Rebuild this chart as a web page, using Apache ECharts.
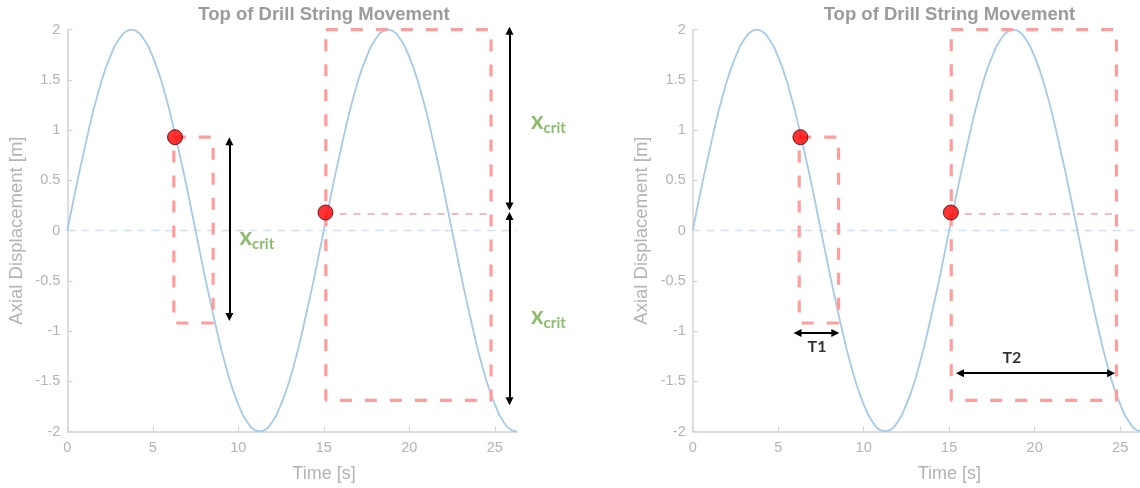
<!DOCTYPE html>
<html>
<head>
<meta charset="utf-8">
<script src="https://cdn.jsdelivr.net/npm/echarts@6/dist/echarts.min.js"></script>
<style>
  html, body { margin: 0; padding: 0; background: #ffffff; }
  #chart { width: 1140px; height: 488px; }
</style>
</head>
<body>
<div id="chart"></div>
<script>
// Top-of-string axial displacement, sampled every 0.25 s
const timeS = [
  0, 0.25, 0.5, 0.75, 1, 1.25, 1.5, 1.75, 2, 2.25, 2.5, 2.75, 3, 3.25, 3.5, 3.75,
  4, 4.25, 4.5, 4.75, 5, 5.25, 5.5, 5.75, 6, 6.25, 6.5, 6.75, 7, 7.25, 7.5,
  7.75, 8, 8.25, 8.5, 8.75, 9, 9.25, 9.5, 9.75, 10, 10.25, 10.5, 10.75, 11, 11.25,
  11.5, 11.75, 12, 12.25, 12.5, 12.75, 13, 13.25, 13.5, 13.75, 14, 14.25, 14.5, 14.75, 15,
  15.25, 15.5, 15.75, 16, 16.25, 16.5, 16.75, 17, 17.25, 17.5, 17.75, 18, 18.25, 18.5, 18.75,
  19, 19.25, 19.5, 19.75, 20, 20.25, 20.5, 20.75, 21, 21.25, 21.5, 21.75, 22, 22.25, 22.5,
  22.75, 23, 23.25, 23.5, 23.75, 24, 24.25, 24.5, 24.75, 25, 25.25, 25.5, 25.75, 26, 26.25
];
const displacementM = [
  0, 0.21, 0.42, 0.62, 0.81, 1.00, 1.18, 1.34, 1.49, 1.62, 1.73, 1.83, 1.90, 1.96, 1.99, 2.00,
  1.99, 1.96, 1.90, 1.83, 1.73, 1.62, 1.49, 1.34, 1.18, 1.00, 0.81, 0.62, 0.42, 0.21, 0,
  -0.21, -0.42, -0.62, -0.81, -1.00, -1.18, -1.34, -1.49, -1.62, -1.73, -1.83, -1.90, -1.96, -1.99, -2.00,
  -1.99, -1.96, -1.90, -1.83, -1.73, -1.62, -1.49, -1.34, -1.18, -1.00, -0.81, -0.62, -0.42, -0.21, 0,
  0.21, 0.42, 0.62, 0.81, 1.00, 1.18, 1.34, 1.49, 1.62, 1.73, 1.83, 1.90, 1.96, 1.99, 2.00,
  1.99, 1.96, 1.90, 1.83, 1.73, 1.62, 1.49, 1.34, 1.18, 1.00, 0.81, 0.62, 0.42, 0.21, 0,
  -0.21, -0.42, -0.62, -0.81, -1.00, -1.18, -1.34, -1.49, -1.62, -1.73, -1.83, -1.90, -1.96, -1.99, -2.00
];

// Axis ranges and tick labels
const xMax = 26.3;
const xTicks = [0, 5, 10, 15, 20, 25];
const yTicks = [-2, -1.5, -1, -0.5, 0, 0.5, 1, 1.5, 2];

// Points where the string starts to move
const criticalPoints = [[6.3, 0.93], [15.1, 0.18]];

// Dashed windows around the two movement episodes
const shortWindow = [[6.23, 0.93], [8.53, 0.93], [8.53, -0.92], [6.23, -0.92], [6.23, 0.93]];
const longWindow = [[15.12, 2.0], [24.78, 2.0], [24.78, -1.69], [15.12, -1.69], [15.12, 2.0]];
const crossingLevel = [[15.1, 0.165], [24.78, 0.165]];
const zeroLevel = [[0, 0], [xMax, 0]];

// x_crit spans (left panel)
const xcritSpans = [
  [[9.48, 0.89], [9.48, -0.86]],
  [[25.86, 1.99], [25.86, 0.24]],
  [[25.86, 0.145], [25.86, -1.70]]
];
const xcritLabelAt = [[10.1, -0.07], [27.15, 1.08], [27.15, -0.86]];

// Period spans (right panel)
const periodSpans = [
  [[6.13, -1.02], [8.34, -1.02]],
  [[15.63, -1.42], [24.47, -1.42]]
];
const periodLabelAt = [[7.3, -1.16], [18.7, -1.27]];
const periodNames = ['T1', 'T2'];

const chart = echarts.init(document.getElementById('chart'), null, { renderer: 'canvas' });

const AXIS_GREY = '#d3d3d3';
const LABEL_GREY = '#b3b3b3';
const TITLE_GREY = '#9b9b9b';
const CURVE_BLUE = '#a5cae8';
const ZERO_BLUE = '#cfe3f4';
const WINDOW_RED = '#ff9c9c';
const XCRIT_GREEN = '#70ad47';
const SANS = '"Liberation Sans", Arial, sans-serif';
const LABEL_FONT = 'Lato, "Open Sans", sans-serif';

const panelLefts = [67.3, 692.7];
const panelWidth = 449.7;
const panelTop = 29.7;
const panelHeight = 401.8;
const titleCenters = [324, 949.4];

const grid = panelLefts.map(l => ({
  left: l, top: panelTop, width: panelWidth, height: panelHeight,
  containLabel: false, outerBoundsMode: 'none'
}));

const xAxis = panelLefts.map((_, i) => ({
  type: 'value', gridIndex: i, min: 0, max: xMax, interval: 5,
  axisLine: { show: true, onZero: false, lineStyle: { color: AXIS_GREY, width: 1.5 } },
  axisTick: { show: true, inside: true, length: 5, customValues: xTicks,
    lineStyle: { color: AXIS_GREY, width: 1.2 } },
  axisLabel: { show: true, customValues: xTicks, color: LABEL_GREY, fontSize: 14.5,
    fontFamily: SANS, margin: 9 },
  splitLine: { show: false }
}));

const yAxis = panelLefts.map((_, i) => ({
  type: 'value', gridIndex: i, min: -2, max: 2, interval: 0.5,
  name: 'Axial Displacement [m]', nameLocation: 'middle', nameGap: 41,
  nameTextStyle: { color: LABEL_GREY, fontSize: 18.5, fontFamily: SANS },
  axisLine: { show: true, lineStyle: { color: AXIS_GREY, width: 1.5 } },
  axisTick: { show: true, inside: true, length: 5, customValues: yTicks,
    lineStyle: { color: AXIS_GREY, width: 1.2 } },
  axisLabel: { show: true, customValues: yTicks, color: LABEL_GREY, fontSize: 14.5,
    fontFamily: SANS, margin: 7 },
  splitLine: { show: false }
}));

function pairs(xs, ys) {
  return xs.map((x, k) => [x, ys[k]]);
}

function dashedPath(i, data, color, width, dash, z) {
  return {
    type: 'line', xAxisIndex: i, yAxisIndex: i, data: data,
    showSymbol: false, symbol: 'none', clip: false, silent: true, z: z,
    lineStyle: { color: color, width: width, type: dash }
  };
}

function arrowSeries(i, spans) {
  return {
    type: 'lines', coordinateSystem: 'cartesian2d', xAxisIndex: i, yAxisIndex: i,
    data: spans.map(c => ({ coords: c })),
    symbol: ['triangle', 'triangle'], symbolSize: 8, clip: false, silent: true, z: 8,
    lineStyle: { color: '#000000', width: 2, opacity: 1, curveness: 0 }
  };
}

function textSeries(i, points, formatter, rich, align) {
  return {
    type: 'scatter', xAxisIndex: i, yAxisIndex: i, data: points,
    symbol: 'circle', symbolSize: 1, clip: false, silent: true, z: 9,
    itemStyle: { color: 'rgba(0,0,0,0)' },
    label: { show: true, position: [0, 0], align: align, verticalAlign: 'middle',
      formatter: formatter, rich: rich }
  };
}

function panelSeries(i) {
  return [
    dashedPath(i, zeroLevel, ZERO_BLUE, 1.5, [8, 6], 2),
    {
      type: 'line', xAxisIndex: i, yAxisIndex: i, data: pairs(timeS, displacementM),
      smooth: false, showSymbol: false, symbol: 'none', silent: true, z: 3,
      lineStyle: { color: CURVE_BLUE, width: 1.8, join: 'round' }
    },
    dashedPath(i, shortWindow, WINDOW_RED, 3.2, [12, 13], 4),
    dashedPath(i, longWindow, WINDOW_RED, 3.2, [12, 13], 4),
    dashedPath(i, crossingLevel, '#ffb0b0', 1.8, [7, 7], 4),
    {
      type: 'scatter', xAxisIndex: i, yAxisIndex: i, data: criticalPoints,
      symbol: 'circle', symbolSize: 15, silent: true, z: 10, clip: false,
      itemStyle: { color: '#ff0000', borderColor: '#4a0000', borderWidth: 1 }
    }
  ];
}

const xcritRich = {
  x: { fontSize: 24, fontWeight: 'bold', fontFamily: LABEL_FONT, color: XCRIT_GREEN },
  sub: { fontSize: 15, fontWeight: 'bold', fontFamily: LABEL_FONT, color: XCRIT_GREEN,
    padding: [14, 0, 0, 0] }
};
const periodRich = {
  t: { fontSize: 16, fontWeight: 'bold', fontFamily: LABEL_FONT, color: '#000000' }
};

const series = [
  ...panelSeries(0),
  arrowSeries(0, xcritSpans),
  textSeries(0, xcritLabelAt, '{x|x}{sub|crit}', xcritRich, 'left'),
  ...panelSeries(1),
  arrowSeries(1, periodSpans),
  textSeries(1, periodLabelAt, p => '{t|' + periodNames[p.dataIndex] + '}', periodRich, 'center')
];

const graphic = [];
titleCenters.forEach(cx => {
  graphic.push({
    type: 'text', x: cx, y: 15, silent: true,
    style: { text: 'Top of Drill String Movement', align: 'center', verticalAlign: 'middle',
      fontSize: 18.5, fontWeight: 'bold', fontFamily: SANS, fill: TITLE_GREY }
  });
  graphic.push({
    type: 'text', x: cx, y: 474, silent: true,
    style: { text: 'Time [s]', align: 'center', verticalAlign: 'middle',
      fontSize: 18, fontFamily: SANS, fill: LABEL_GREY }
  });
});

chart.setOption({
  animation: false,
  backgroundColor: '#ffffff',
  grid: grid,
  xAxis: xAxis,
  yAxis: yAxis,
  series: series,
  graphic: graphic
});
</script>
</body>
</html>
